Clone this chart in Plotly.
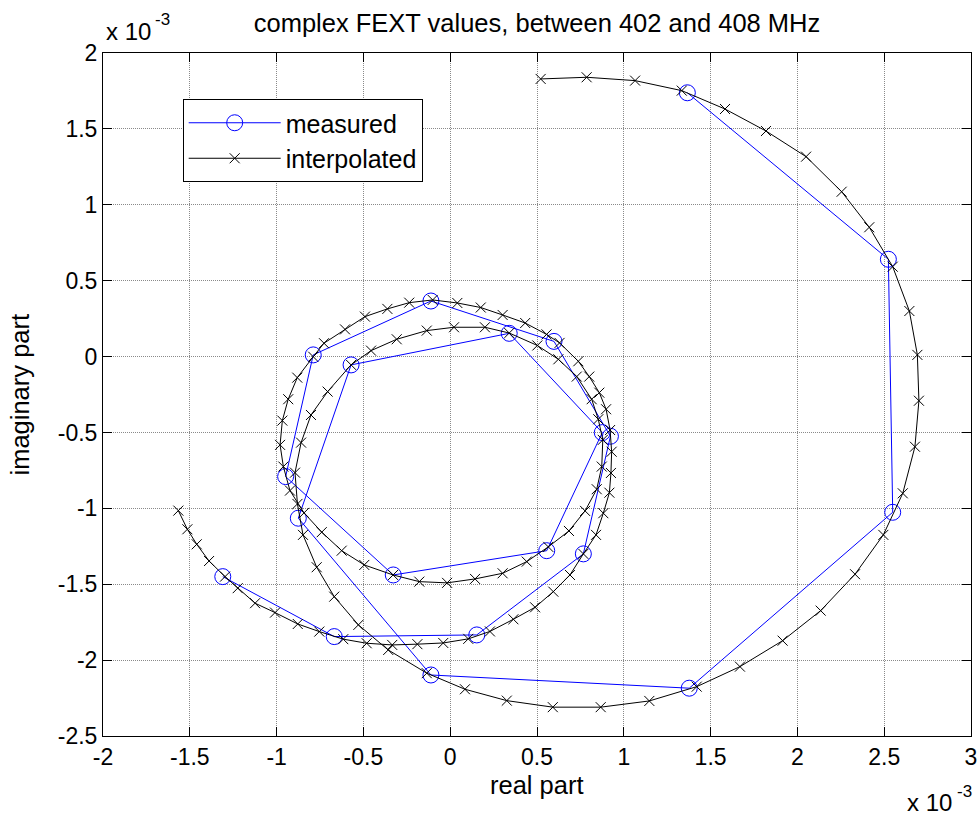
import plotly.graph_objects as go

# Values in units of 1e-3 (axes show "x 10^-3")
interp_real = [-1.566, -1.514, -1.460, -1.389, -1.297, -1.224, -1.124, -1.009, -0.878, -0.754,
               -0.616, -0.481, -0.334, -0.189, -0.040, 0.104, 0.229, 0.364, 0.489, 0.594,
               0.690, 0.767, 0.840, 0.882, 0.917, 0.926, 0.930, 0.921, 0.898, 0.859,
               0.801, 0.738, 0.630, 0.555, 0.432, 0.302, 0.176, 0.041, -0.101, -0.236,
               -0.362, -0.491, -0.606, -0.727, -0.789, -0.881, -0.933, -0.967, -0.980, -0.961,
               -0.923, -0.842, -0.740, -0.625, -0.495, -0.329, -0.178, -0.018, 0.143, 0.302,
               0.441, 0.565, 0.684, 0.777, 0.844, 0.873, 0.879, 0.853, 0.815, 0.729,
               0.623, 0.502, 0.340, 0.200, 0.022, -0.135, -0.308, -0.456, -0.571, -0.706,
               -0.802, -0.859, -0.894, -0.880, -0.848, -0.769, -0.668, -0.529, -0.357, -0.135,
               0.085, 0.326, 0.591, 0.867, 1.147, 1.420, 1.669, 1.915, 2.134, 2.332,
               2.495, 2.607, 2.677, 2.700, 2.691, 2.645, 2.549, 2.414, 2.255, 2.050,
               1.819, 1.583, 1.334, 1.065, 0.786, 0.521]
interp_imag = [-1.015, -1.138, -1.237, -1.347, -1.450, -1.526, -1.625, -1.687, -1.762, -1.812,
               -1.862, -1.889, -1.900, -1.895, -1.887, -1.860, -1.811, -1.731, -1.652, -1.549,
               -1.439, -1.300, -1.175, -1.032, -0.897, -0.767, -0.627, -0.484, -0.347, -0.238,
               -0.132, -0.031, 0.090, 0.146, 0.221, 0.274, 0.323, 0.353, 0.373, 0.355,
               0.314, 0.263, 0.179, 0.088, -0.001, -0.139, -0.281, -0.422, -0.582, -0.725,
               -0.883, -1.030, -1.157, -1.279, -1.373, -1.439, -1.483, -1.491, -1.465, -1.428,
               -1.351, -1.254, -1.149, -1.017, -0.874, -0.725, -0.549, -0.413, -0.281, -0.132,
               -0.018, 0.073, 0.155, 0.193, 0.193, 0.171, 0.114, 0.039, -0.055, -0.231,
               -0.385, -0.567, -0.765, -0.971, -1.175, -1.388, -1.582, -1.768, -1.933, -2.086,
               -2.192, -2.267, -2.310, -2.310, -2.269, -2.175, -2.043, -1.872, -1.674, -1.434,
               -1.175, -0.901, -0.594, -0.291, 0.011, 0.300, 0.592, 0.852, 1.086, 1.317,
               1.486, 1.631, 1.752, 1.818, 1.840, 1.829]

meas_real = [-1.310, -0.668, 0.153, 0.767, 0.923, 0.598, -0.111, -0.789, -0.948, -0.328,
             0.556, 0.876, 0.340, -0.571, -0.875, -0.111, 1.377, 2.549, 2.524, 1.366]
meas_imag = [-1.450, -1.845, -1.834, -1.300, -0.525, 0.100, 0.366, 0.011, -0.791, -1.439,
             -1.279, -0.501, 0.153, -0.055, -1.065, -2.098, -2.185, -1.026, 0.641, 1.738]

x_tick_vals = [-2, -1.5, -1, -0.5, 0, 0.5, 1, 1.5, 2, 2.5, 3]
x_tick_text = ["-2", "-1.5", "-1", "-0.5", "0", "0.5", "1", "1.5", "2", "2.5", "3"]
y_tick_vals = [-2.5, -2, -1.5, -1, -0.5, 0, 0.5, 1, 1.5, 2]
y_tick_text = ["-2.5", "-2", "-1.5", "-1", "-0.5", "0", "0.5", "1", "1.5", "2"]

FONT = "Liberation Sans, Arial, sans-serif"

W, H = 980, 817
L, R, T, B = 103, 9, 53, 81
PW, PH = W - L - R, H - T - B


def px(xp):
    return (xp - L) / PW


def py(yp):
    return (H - B - yp) / PH


fig = go.Figure()
fig.add_trace(go.Scatter(
    x=meas_real, y=meas_imag, mode="lines+markers", name="measured",
    legendgroup="m",
    line=dict(color="#0000FF", width=1),
    marker=dict(symbol="circle-open", size=16, color="#0000FF",
                line=dict(width=1, color="#0000FF")),
))
fig.add_trace(go.Scatter(
    x=interp_real, y=interp_imag, mode="lines+markers", name="interpolated",
    legendgroup="i",
    line=dict(color="black", width=1),
    marker=dict(symbol="x-thin-open", size=10, color="black",
                line=dict(width=1, color="black")),
))

axis_common = dict(
    showline=True, linecolor="black", linewidth=1, mirror="allticks",
    ticks="inside", ticklen=9, tickcolor="black", tickwidth=1,
    showgrid=True, gridcolor="#8a8a8a", griddash="1px,1px", gridwidth=1,
    zeroline=False, automargin=False,
    tickfont=dict(family=FONT, size=23, color="black"),
)
fig.update_xaxes(range=[-2, 3], tickvals=x_tick_vals, ticktext=x_tick_text, **axis_common)
fig.update_yaxes(range=[-2.5, 2], tickvals=y_tick_vals, ticktext=y_tick_text, **axis_common)

ann = [
    dict(text="x 10", x=px(104), y=py(31.8), xanchor="left", yanchor="middle",
         font=dict(size=24)),
    dict(text="-3", x=px(153), y=py(19.2), xanchor="left", yanchor="middle",
         font=dict(size=17)),
    dict(text="x 10", x=px(905), y=py(802.5), xanchor="left", yanchor="middle",
         font=dict(size=24)),
    dict(text="-3", x=px(955), y=py(791), xanchor="left", yanchor="middle",
         font=dict(size=17)),
    dict(text="real part", x=0.5, y=py(785), xanchor="center", yanchor="middle",
         font=dict(size=25.5)),
    dict(text="imaginary part", x=px(19), y=0.5, xanchor="center", yanchor="middle",
         textangle=-90, font=dict(size=25.5)),
]
for a in ann:
    a.update(xref="paper", yref="paper", showarrow=False)
    a["font"].update(family=FONT, color="black")

fig.update_layout(
    width=W, height=H,
    margin=dict(l=L, r=R, t=T, b=B, pad=0, autoexpand=False),
    paper_bgcolor="white", plot_bgcolor="white",
    title=dict(text="complex FEXT values, between 402 and 408 MHz",
               xref="paper", x=0.5, xanchor="center",
               yref="container", y=1 - 23.2 / H, yanchor="middle",
               font=dict(family=FONT, size=25.5, color="black")),
    legend=dict(x=px(182.7), y=py(99), xanchor="left", yanchor="top",
                bordercolor="black", borderwidth=1, bgcolor="white",
                font=dict(family=FONT, size=25, color="black"),
                itemwidth=92, tracegroupgap=0),
    annotations=ann,
    showlegend=True,
)

fig.write_html("out.html",
               config={"displayModeBar": False},
               post_script="document.body.style.margin='0px';"
                           "document.body.style.overflow='hidden';")
